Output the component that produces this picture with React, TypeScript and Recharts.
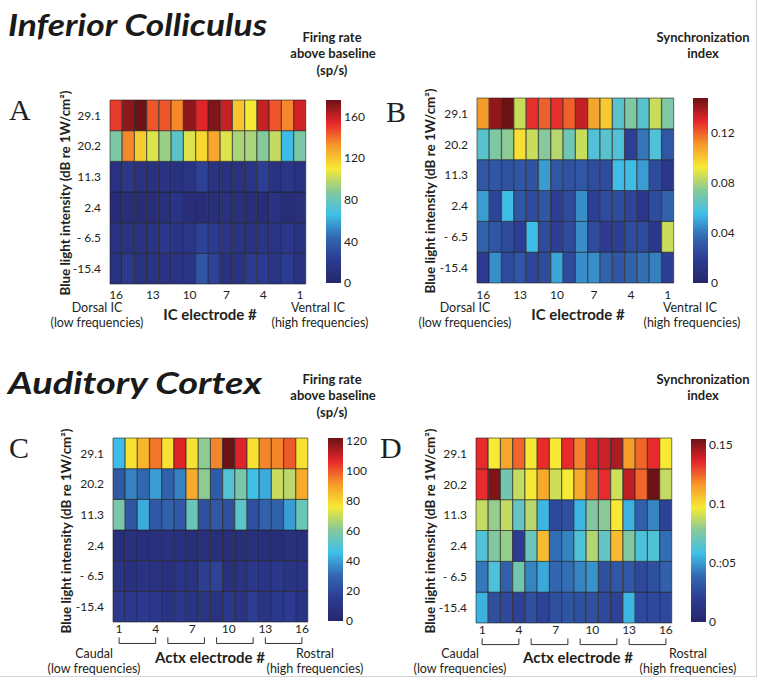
import React from "react";
import { BarChart, Bar, Cell, XAxis, YAxis, ReferenceLine } from "recharts";

// electrode order as drawn, left to right
const IC_ELECTRODES = [16, 15, 14, 13, 12, 11, 10, 9, 8, 7, 6, 5, 4, 3, 2, 1];
const ACTX_ELECTRODES = [1, 2, 3, 4, 5, 6, 7, 8, 9, 10, 11, 12, 13, 14, 15, 16];
// light intensity rows, top to bottom
const INTENSITY = ["29.1", "20.2", "11.3", "2.4", "- 6.5", "-15.4"];
const ACTX_GROUPS = [[1, 4], [5, 8], [9, 12], [13, 16]];

// A: IC firing rate above baseline (sp/s)
const icRate = [
  [150, 170, 176, 145, 145, 135, 170, 155, 172, 160, 120, 110, 160, 145, 135, 158],
  [85, 135, 118, 105, 92, 75, 105, 115, 128, 105, 95, 95, 88, 100, 65, 85],
  [12, 18, 12, 12, 13, 12, 14, 25, 13, 12, 12, 14, 24, 12, 16, 12],
  [6, 8, 7, 8, 9, 14, 8, 7, 9, 10, 9, 8, 7, 13, 7, 10],
  [12, 13, 13, 14, 18, 14, 16, 25, 22, 15, 14, 13, 15, 14, 18, 12],
  [12, 20, 12, 14, 13, 14, 14, 35, 25, 12, 14, 22, 22, 15, 22, 12],
];
// B: IC synchronization index
const icSync = [
  [0.11, 0.142, 0.148, 0.085, 0.128, 0.12, 0.128, 0.12, 0.135, 0.108, 0.1, 0.062, 0.072, 0.062, 0.085, 0.072],
  [0.062, 0.072, 0.075, 0.095, 0.085, 0.074, 0.082, 0.068, 0.085, 0.06, 0.062, 0.06, 0.02, 0.04, 0.06, 0.03],
  [0.03, 0.03, 0.028, 0.03, 0.028, 0.048, 0.03, 0.028, 0.03, 0.026, 0.025, 0.055, 0.055, 0.048, 0.025, 0.015],
  [0.048, 0.022, 0.055, 0.03, 0.025, 0.03, 0.02, 0.025, 0.045, 0.02, 0.025, 0.025, 0.022, 0.015, 0.025, 0.035],
  [0.035, 0.03, 0.025, 0.02, 0.055, 0.025, 0.02, 0.025, 0.045, 0.025, 0.018, 0.02, 0.025, 0.025, 0.015, 0.085],
  [0.018, 0.045, 0.025, 0.03, 0.022, 0.025, 0.05, 0.025, 0.045, 0.045, 0.035, 0.03, 0.035, 0.038, 0.042, 0.02],
];
// C: ACtx firing rate above baseline (sp/s)
const actxRate = [
  [45, 78, 86, 96, 78, 108, 78, 62, 94, 122, 108, 78, 94, 94, 100, 78],
  [25, 35, 30, 40, 28, 35, 88, 62, 26, 50, 58, 46, 42, 70, 68, 88],
  [58, 24, 42, 25, 28, 25, 55, 22, 25, 22, 52, 22, 28, 28, 40, 55],
  [6, 7, 6, 7, 8, 7, 6, 7, 6, 5, 6, 7, 6, 6, 7, 6],
  [10, 8, 9, 9, 8, 10, 9, 16, 18, 8, 9, 12, 10, 12, 10, 9],
  [14, 13, 14, 12, 10, 12, 10, 10, 9, 12, 10, 16, 10, 13, 15, 10],
];
// D: ACtx synchronization index
const actxSync = [
  [0.135, 0.097, 0.113, 0.125, 0.097, 0.135, 0.097, 0.135, 0.12, 0.137, 0.14, 0.145, 0.115, 0.125, 0.135, 0.097],
  [0.135, 0.152, 0.072, 0.088, 0.097, 0.112, 0.09, 0.097, 0.112, 0.125, 0.135, 0.09, 0.142, 0.125, 0.155, 0.088],
  [0.088, 0.08, 0.088, 0.068, 0.086, 0.056, 0.025, 0.028, 0.056, 0.076, 0.078, 0.097, 0.055, 0.035, 0.045, 0.022],
  [0.063, 0.076, 0.08, 0.02, 0.07, 0.108, 0.04, 0.045, 0.063, 0.085, 0.068, 0.108, 0.076, 0.062, 0.063, 0.04],
  [0.042, 0.062, 0.035, 0.072, 0.045, 0.053, 0.038, 0.04, 0.045, 0.048, 0.028, 0.032, 0.032, 0.025, 0.028, 0.035],
  [0.055, 0.028, 0.025, 0.022, 0.028, 0.022, 0.028, 0.03, 0.028, 0.028, 0.025, 0.022, 0.056, 0.025, 0.025, 0.025],
];

const RATE_TICKS_IC = [0, 40, 80, 120, 160];
const SYNC_TICKS_IC = [0, 0.04, 0.08, 0.12];
const RATE_TICKS_ACTX = [0, 20, 40, 60, 80, 100, 120];
const SYNC_TICKS_ACTX = [0, 0.05, 0.1, 0.15];
const SYNC_LABELS_ACTX = ["0", "0.;05", "0.1", "0.15"];

// jet-like colormap, as printed
const JET: [number, string][] = [
  [0, "#26276b"],
  [0.125, "#2c3b92"],
  [0.25, "#3268b0"],
  [0.375, "#3fbfe9"],
  [0.5, "#86c99a"],
  [0.625, "#f7ea34"],
  [0.75, "#f6982a"],
  [0.875, "#e6262b"],
  [1, "#6b1215"],
];

const hex = (c: string) => [1, 3, 5].map((i) => parseInt(c.slice(i, i + 2), 16));
function jet(t: number) {
  t = Math.max(0, Math.min(1, t));
  for (let i = 1; i < JET.length; i++) {
    if (t <= JET[i][0]) {
      const [t0, c0] = JET[i - 1];
      const [t1, c1] = JET[i];
      const f = (t - t0) / (t1 - t0);
      const a = hex(c0);
      const b = hex(c1);
      return `rgb(${a.map((v, k) => Math.round(v + (b[k] - v) * f)).join(",")})`;
    }
  }
  return JET[JET.length - 1][1];
}

const INK = "#231f20";
const AXW = 50;
const PAD = 5;

function Heatmap({ x, y, w, h, rows, electrodes, max, tickGap, groups }: any) {
  const data = electrodes.map((e: number) => {
    const d: any = { e };
    rows.forEach((_: any, i: number) => (d["r" + i] = 1));
    return d;
  });
  // bottom row is stacked first
  const order = rows.map((_: any, i: number) => rows.length - 1 - i);
  const xh = 34;
  const bracket = (a: number, b: number) => [
    <ReferenceLine key={"l" + a} segment={[{ x: a, y: -0.5 }, { x: a, y: -0.7 }]} stroke="#333" ifOverflow="visible" />,
    <ReferenceLine key={"m" + a} segment={[{ x: a, y: -0.7 }, { x: b, y: -0.7 }]} stroke="#333" ifOverflow="visible" />,
    <ReferenceLine key={"r" + a} segment={[{ x: b, y: -0.5 }, { x: b, y: -0.7 }]} stroke="#333" ifOverflow="visible" />,
  ];
  return (
    <div style={{ position: "absolute", left: x - AXW, top: y - PAD }}>
      <BarChart
        width={w + AXW + PAD}
        height={h + PAD + xh}
        data={data}
        margin={{ top: PAD, right: PAD, left: 0, bottom: 0 }}
        barCategoryGap={0}
        barGap={0}
      >
        <XAxis
          dataKey="e"
          interval={2}
          height={xh}
          axisLine={false}
          tickLine={false}
          tickSize={0}
          tickMargin={tickGap}
          tick={{ fontSize: 12, fill: INK }}
        />
        <YAxis
          type="number"
          domain={[0, 6]}
          ticks={[0.5, 1.5, 2.5, 3.5, 4.5, 5.5]}
          interval={0}
          tickFormatter={(v: number) => INTENSITY[5 - Math.floor(v)]}
          width={AXW}
          axisLine={false}
          tickLine={false}
          tickSize={0}
          tickMargin={9}
          tick={{ fontSize: 12, fill: INK }}
        />
        {order.map((i: number) => (
          <Bar key={i} dataKey={"r" + i} stackId="s" isAnimationActive={false}>
            {rows[i].map((v: number, j: number) => (
              <Cell key={j} fill={jet(v / max)} stroke="#1e1e1e" strokeWidth={0.6} />
            ))}
          </Bar>
        ))}
        {groups && groups.map(([a, b]: number[]) => bracket(a, b))}
      </BarChart>
    </div>
  );
}

function Colorbar({ x, y, w, h, max, ticks, fmt, id }: any) {
  const pad = 10;
  return (
    <div style={{ position: "absolute", left: x, top: y - pad }}>
      <BarChart
        width={w + 45}
        height={h + 2 * pad}
        data={[{ c: "c", v: max }]}
        margin={{ top: pad, right: 0, left: 0, bottom: pad }}
        barCategoryGap={0}
      >
        <defs>
          <linearGradient id={id} x1="0" y1="1" x2="0" y2="0">
            {JET.map(([t, c]) => (
              <stop key={t} offset={`${t * 100}%`} stopColor={c} />
            ))}
          </linearGradient>
        </defs>
        <XAxis dataKey="c" hide />
        <YAxis
          orientation="right"
          domain={[0, max]}
          ticks={ticks}
          interval={0}
          tickFormatter={fmt}
          width={45}
          axisLine={false}
          tickLine={false}
          tickSize={0}
          tickMargin={3}
          tick={{ fontSize: 12, fill: INK }}
        />
        <Bar dataKey="v" fill={`url(#${id})`} isAnimationActive={false} />
      </BarChart>
    </div>
  );
}

const YTITLE = "Blue light intensity (dB re 1W/cm²)";

function Labels() {
  const t = { fill: INK, fontSize: 12.5, textAnchor: "middle" as const };
  const b = { ...t, fontWeight: 700, fontSize: 13 };
  const ytitle = (cx: number, cy: number) => (
    <text
      x={cx}
      y={cy}
      transform={`rotate(-90 ${cx} ${cy})`}
      {...t}
      fontWeight={700}
      fontSize={12.5}
      dominantBaseline="middle"
      textLength={205}
      lengthAdjust="spacingAndGlyphs"
    >
      {YTITLE}
    </text>
  );
  const letter = (lx: number, ly: number, s: string) => (
    <text x={lx} y={ly} fontFamily="'Liberation Serif', serif" fontSize={30} fill={INK}>
      {s}
    </text>
  );
  return (
    <svg width={764} height={683} style={{ position: "absolute", left: 0, top: 0, pointerEvents: "none" }}>
      <text x={8} y={36} fontSize={31} fontWeight={700} fontStyle="italic" fill="#1a1a1a" textLength={259} lengthAdjust="spacingAndGlyphs">
        Inferior Colliculus
      </text>
      <text x={8} y={394} fontSize={31} fontWeight={700} fontStyle="italic" fill="#1a1a1a" textLength={254} lengthAdjust="spacingAndGlyphs">
        Auditory Cortex
      </text>

      <text x={332} y={42} {...b}>Firing rate</text>
      <text x={333} y={58} {...b}>above baseline</text>
      <text x={332} y={75} {...b}>(sp/s)</text>
      <text x={703} y={42} {...b}>Synchronization</text>
      <text x={703} y={58} {...b}>index</text>
      <text x={332} y={384} {...b}>Firing rate</text>
      <text x={333} y={400} {...b}>above baseline</text>
      <text x={332} y={417} {...b}>(sp/s)</text>
      <text x={703} y={384} {...b}>Synchronization</text>
      <text x={703} y={400} {...b}>index</text>

      {letter(9, 120, "A")}
      {letter(386, 122, "B")}
      {letter(9, 458, "C")}
      {letter(380, 458, "D")}

      {ytitle(67, 193)}
      {ytitle(432, 191)}
      {ytitle(68, 531)}
      {ytitle(432, 531)}

      <text x={97} y={312} {...t}>Dorsal IC</text>
      <text x={97} y={327} {...t}>(low frequencies)</text>
      <text x={210} y={320} {...t} fontWeight={700} fontSize={15}>IC electrode #</text>
      <text x={318} y={312} {...t}>Ventral IC</text>
      <text x={320} y={327} {...t}>(high frequencies)</text>

      <text x={465} y={312} {...t}>Dorsal IC</text>
      <text x={465} y={327} {...t}>(low frequencies)</text>
      <text x={578} y={320} {...t} fontWeight={700} fontSize={15}>IC electrode #</text>
      <text x={690} y={312} {...t}>Ventral IC</text>
      <text x={692} y={327} {...t}>(high frequencies)</text>

      <text x={94} y={658} {...t}>Caudal</text>
      <text x={94} y={673} {...t}>(low frequencies)</text>
      <text x={210} y={663} {...t} fontWeight={700} fontSize={15}>Actx electrode #</text>
      <text x={315} y={658} {...t}>Rostral</text>
      <text x={315} y={673} {...t}>(high frequencies)</text>

      <text x={460} y={658} {...t}>Caudal</text>
      <text x={460} y={673} {...t}>(low frequencies)</text>
      <text x={578} y={663} {...t} fontWeight={700} fontSize={15}>Actx electrode #</text>
      <text x={688} y={658} {...t}>Rostral</text>
      <text x={688} y={673} {...t}>(high frequencies)</text>
    </svg>
  );
}

export default function App() {
  return (
    <div
      style={{
        position: "absolute",
        left: 0,
        top: 0,
        width: 764,
        height: 683,
        background: "#fff",
        fontFamily: "Lato, 'Open Sans', sans-serif",
        overflow: "hidden",
      }}
    >
      <div
        style={{
          position: "absolute",
          left: 0,
          top: 0,
          width: 756,
          height: 676,
          borderRight: "1px solid #d4d4d4",
          borderBottom: "1px solid #d4d4d4",
        }}
      />
      <Heatmap x={110} y={100} w={196} h={184} rows={icRate} electrodes={IC_ELECTRODES} max={176} tickGap={6} />
      <Colorbar x={326} y={100} w={15} h={183} max={176} ticks={RATE_TICKS_IC} id="jetA" />

      <Heatmap x={477} y={98} w={197} h={185} rows={icSync} electrodes={IC_ELECTRODES} max={0.148} tickGap={7} />
      <Colorbar x={693} y={98} w={15} h={185} max={0.148} ticks={SYNC_TICKS_IC} fmt={(v: number) => (v === 0 ? "0" : v.toFixed(2))} id="jetB" />

      <Heatmap x={113} y={438} w={195} h={184} rows={actxRate} electrodes={ACTX_ELECTRODES} max={122} tickGap={2} groups={ACTX_GROUPS} />
      <Colorbar x={328} y={438} w={15} h={183} max={122} ticks={RATE_TICKS_ACTX} id="jetC" />

      <Heatmap x={476} y={438} w={196} h={185} rows={actxSync} electrodes={ACTX_ELECTRODES} max={0.155} tickGap={2} groups={ACTX_GROUPS} />
      <Colorbar x={691} y={439} w={15} h={183} max={0.155} ticks={SYNC_TICKS_ACTX} fmt={(v: number) => SYNC_LABELS_ACTX[SYNC_TICKS_ACTX.indexOf(v)]} id="jetD" />

      <Labels />
    </div>
  );
}
